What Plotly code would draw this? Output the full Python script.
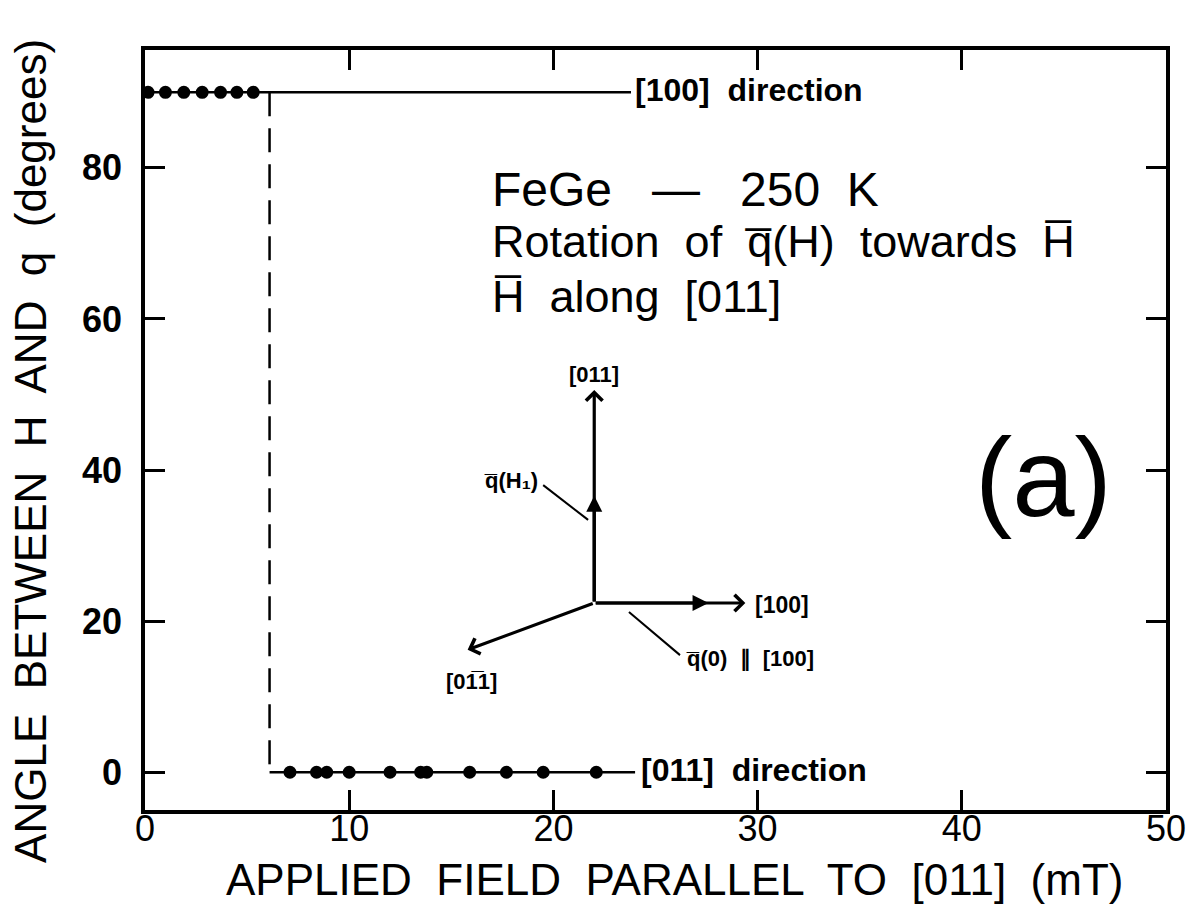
import plotly.graph_objects as go

# Measured propagation-vector angle versus applied field (FeGe, 250 K)
low_field_mT = [0.15, 1.0, 1.9, 2.8, 3.7, 4.5, 5.3]
low_field_angle = [90, 90, 90, 90, 90, 90, 90]
high_field_mT = [7.1, 8.4, 8.9, 10.0, 12.0, 13.5, 13.8, 15.9, 17.7, 19.5, 22.1]
high_field_angle = [0, 0, 0, 0, 0, 0, 0, 0, 0, 0, 0]

# Guide lines: [100] plateau, switching field, [011] plateau
plateau_end_mT = 23.8
switch_field_mT = 6.1

x_ticks = [0, 10, 20, 30, 40, 50]
y_ticks = [0, 20, 40, 60, 80]

# Vector sketch of the crystal axes (in axis units)
origin = (22.0, 22.4)
axis_011_tip = (22.0, 50.6)
axis_100_tip = (29.4, 22.4)
axis_0m11_tip = (15.8, 16.2)
q_H1_head = (22.0, 36.6)
q_0_head = (27.6, 22.4)

BLACK = "#000000"
FONT = "Liberation Sans, Arial, sans-serif"

fig = go.Figure()

# solid plateau lines
fig.add_trace(go.Scatter(
    x=[0, plateau_end_mT], y=[90, 90], mode="lines",
    line=dict(color=BLACK, width=2.5), hoverinfo="skip", showlegend=False))
fig.add_trace(go.Scatter(
    x=[switch_field_mT, plateau_end_mT + 0.2], y=[0, 0], mode="lines",
    line=dict(color=BLACK, width=2.5), hoverinfo="skip", showlegend=False))
# dashed switching line
fig.add_trace(go.Scatter(
    x=[switch_field_mT, switch_field_mT], y=[90, 0], mode="lines",
    line=dict(color=BLACK, width=2.5, dash="24px,12px"),
    hoverinfo="skip", showlegend=False))

# data points
fig.add_trace(go.Scatter(
    x=low_field_mT, y=low_field_angle, mode="markers",
    marker=dict(color=BLACK, size=13), showlegend=False))
fig.add_trace(go.Scatter(
    x=high_field_mT, y=high_field_angle, mode="markers",
    marker=dict(color=BLACK, size=13), showlegend=False))

annotations = []


def text(x, y, s, size, xanchor="left", weight="normal", ref="x", angle=0):
    annotations.append(dict(
        x=x, y=y, xref=ref, yref=ref.replace("x", "y"), text=s,
        showarrow=False, xanchor=xanchor, yanchor="middle", textangle=angle,
        font=dict(family=FONT, size=size, color=BLACK, weight=weight)))


def arrow(tip, tail, head, width=3.0, size=1.0):
    annotations.append(dict(
        x=tip[0], y=tip[1], ax=tail[0], ay=tail[1],
        xref="x", yref="y", axref="x", ayref="y",
        text="", showarrow=True, arrowhead=head, arrowsize=size,
        arrowwidth=width, arrowcolor=BLACK))


# axis titles
text(0.519, -0.092, "APPLIED  FIELD  PARALLEL  TO  [011]  (mT)", 44,
     xanchor="center", ref="paper")
text(-0.112, 0.472, "ANGLE  BETWEEN  H  AND  q  (degrees)", 44,
     xanchor="center", ref="paper", angle=-90)

# plateau labels
text(23.9, 90.3, "[100]  direction", 32, weight="bold")
text(24.2, 0.3, "[011]  direction", 32, weight="bold")

# title block
text(16.9, 77.2, "FeGe   \u2014   250  K", 48)
text(16.9, 70.3, "Rotation  of  q\u0305(H)  towards  H\u0305", 45)
text(16.9, 63.0, "H\u0305  along  [011]", 45)
text(44.0, 39.0, "(a)", 112, xanchor="center")

# crystal-axis sketch
arrow(axis_011_tip, origin, 4, width=3.2)
arrow(q_H1_head, origin, 2, width=3.2)
arrow(axis_100_tip, origin, 4, width=3.2)
arrow(q_0_head, origin, 2, width=3.2)
arrow(axis_0m11_tip, origin, 4, width=3.2)

text(22.0, 52.6, "[011]", 22, xanchor="center", weight="bold")
text(17.9, 38.6, "q\u0305(H\u2081)", 22, xanchor="center", weight="bold")
text(29.75, 22.1, "[100]", 23, weight="bold")
text(26.4, 15.0, "q\u0305(0)  \u2225  [100]", 22, weight="bold")
text(16.0, 12.0, "[01\u03051]", 22, xanchor="center", weight="bold")

shapes = [
    dict(type="line", xref="x", yref="y", x0=19.5, y0=38.0, x1=21.7, y1=33.4,
         line=dict(color=BLACK, width=2)),
    dict(type="line", xref="x", yref="y", x0=23.7, y0=21.2, x1=26.2, y1=15.5,
         line=dict(color=BLACK, width=2)),
]

axis_common = dict(
    showgrid=False, zeroline=False, showline=True, linecolor=BLACK,
    linewidth=3.5, mirror="ticks", ticks="inside", ticklen=20, tickwidth=2.5,
    tickcolor=BLACK, automargin=False,
)

fig.update_layout(
    width=1189, height=917,
    margin=dict(l=145, r=23, t=50, b=107),
    plot_bgcolor="white", paper_bgcolor="white",
    annotations=annotations, shapes=shapes,
    xaxis=dict(
        range=[0, 50], tickvals=x_ticks,
        tickfont=dict(family=FONT, size=36, color=BLACK),
        ticklabelstandoff=-16,
        **axis_common),
    yaxis=dict(
        range=[-5.0, 95.6], tickvals=y_ticks,
        tickfont=dict(family=FONT, size=36, color=BLACK, weight="bold"),
        ticklabelstandoff=12,
        **axis_common),
)

fig.write_html("out.html")
